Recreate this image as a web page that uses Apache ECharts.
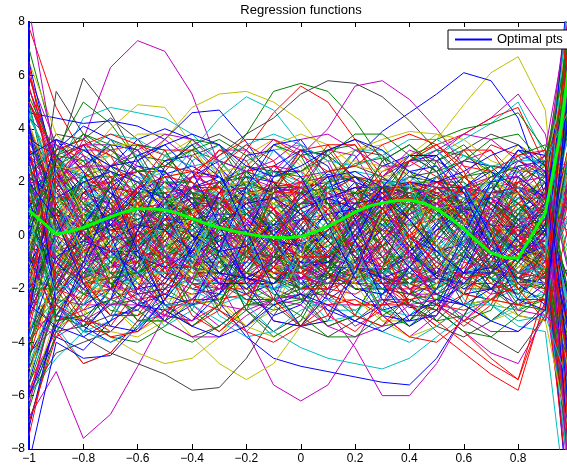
<!DOCTYPE html>
<html lang="en">
<head>
    <meta charset="UTF-8">
    <title>Regression functions</title>
    <style>
        html, body { margin: 0; padding: 0; background: #fff; }
        #main { width: 567px; height: 465px; }
    </style>
</head>
<body>
<div id="main"></div>
<script src="https://cdn.jsdelivr.net/npm/echarts@6/dist/echarts.min.js"></script>
<script>
    // sample points of the thin regression curves
    var xNodes = [-1, -0.9, -0.8, -0.7, -0.6, -0.5, -0.4, -0.3, -0.2, -0.1, 0, 0.1, 0.2, 0.3, 0.4, 0.5, 0.6, 0.7, 0.8, 0.9, 1];
    // finer sampling for the optimal curve
    var xFine = [-1, -0.95, -0.9, -0.85, -0.8, -0.75, -0.7, -0.65, -0.6, -0.55, -0.5, -0.45, -0.4, -0.35, -0.3, -0.25, -0.2, -0.15, -0.1, -0.05,
        0, 0.05, 0.1, 0.15, 0.2, 0.25, 0.3, 0.35, 0.4, 0.45, 0.5, 0.55, 0.6, 0.65, 0.7, 0.75, 0.8, 0.85, 0.9, 0.95, 1];
    var optimalY = [0.94, 0.5, 0.05, 0.15, 0.3, 0.5, 0.7, 0.88, 1.0, 1.0, 0.95, 0.83, 0.63, 0.45, 0.3, 0.17, 0.07, -0.02, -0.07, -0.08,
        -0.04, 0.12, 0.33, 0.6, 0.88, 1.1, 1.22, 1.3, 1.33, 1.22, 1.0, 0.65, 0.25, -0.22, -0.65, -0.82, -0.85, 0.0, 0.85, 3.5, 7.4];
    // the "Optimal pts" trace runs straight up the left edge
    var edgeX = [-1, -1];
    var edgeY = [9, -9];

    var xTicks = [-1, -0.8, -0.6, -0.4, -0.2, 0, 0.2, 0.4, 0.6, 0.8, 1];
    var yTicks = [-8, -6, -4, -2, 0, 2, 4, 6, 8];

    // MATLAB default colour order: b g r c m y k
    var blueLines = [
        [-1.8, 2.1, 3.0, 2.4, 1.2, 0.3, -0.5, -1.2, -1.0, 0.2, 1.5, 2.3, 2.0, 0.8, -0.6, -1.5, -1.2, 0.1, 1.6, 2.0, -6],
        [2.8, -1.5, -2.6, -2.0, -0.6, 0.8, 1.6, 1.4, 0.5, -0.6, -1.8, -2.4, -1.7, -0.2, 1.2, 1.8, 1.1, -0.3, -1.6, -1.0, 9],
        [1.5, 0.8, -0.5, -1.2, -0.8, 0.2, 1.1, 1.3, 0.8, 0.4, 0.6, 1.6, 2.9, 3.9, 4.6, 5.3, 6.1, 5.8, 4.4, 1.5, -4],
        [-3, -2.2, -1.0, 0.3, 0.8, 0.2, -1.0, -2.5, -3.8, -4.6, -4.9, -5.1, -5.3, -5.5, -5.6, -4.6, -3.0, -1.4, -0.5, -0.8, 5],
        [4.6, 4.4, 4.2, 4.3, 4.1, 3.6, 4.6, 4.7, 3.5, 2.0, 0.8, 0.0, -0.8, -1.2, -0.6, 0.5, 1.8, 2.6, 2.5, 1.0, -7],
        [-6, -3.8, -4.3, -3.2, -1.5, 0.2, 1.2, 1.0, -0.2, -1.4, -2.0, -1.6, -0.5, 0.8, 1.5, 1.2, 0.1, -1.1, -2.0, -1.2, 4],
        [2.5, 1.0, 0.2, 0.6, 1.5, 2.3, 2.6, 2.0, 1.0, 0.2, -0.3, -0.1, 0.7, 1.6, 2.2, 2.0, 1.2, 0.2, -0.6, -0.2, 3],
        [-2, -0.5, 1.0, 1.8, 1.6, 0.6, -0.7, -1.8, -2.2, -1.8, -0.8, 0.4, 1.5, 2.1, 1.9, 0.9, -0.4, -1.6, -2.2, -1.5, -8],
        [5.5, 2.8, 1.2, -0.4, -1.8, -2.6, -2.4, -1.5, -0.2, 1.0, 1.8, 2.0, 1.4, 0.4, -0.7, -1.5, -1.8, -1.2, 0.0, 1.8, 10],
        [-4.5, -2.6, -3.4, -4.0, -3.5, -2.4, -1.2, -0.2, 0.4, 0.3, -0.4, -1.4, -2.3, -2.8, -2.5, -1.6, -0.4, 0.7, 1.2, 0.2, -6],
        [1.0, 3.2, 4.1, 3.6, 2.4, 1.2, 0.6, 0.8, 1.6, 2.6, 3.2, 3.0, 2.2, 1.0, -0.1, -0.6, -0.3, 0.6, 1.6, 2.8, 6],
        [-1.0, 0.3, -0.8, -2.0, -2.6, -2.2, -1.2, 0.1, 1.2, 1.8, 1.6, 0.6, -0.8, -2.0, -2.7, -2.6, -1.8, -0.6, 0.6, 0.8, -3],
        [3.5, 1.6, 2.6, 3.4, 3.2, 2.2, 0.8, -0.6, -1.6, -2.0, -1.6, -0.7, 0.5, 1.4, 1.8, 1.5, 0.9, 0.4, 0.3, 0.6, -2],
        [-8.5, -4.0, -4.6, -4.5, -3.4, -2.0, -0.8, 0.0, 0.2, -0.3, -1.0, -1.6, -1.8, -1.4, -0.6, 0.4, 1.2, 1.4, 0.6, -1.0, -9],
        [0.5, -1.6, -2.8, -2.4, -1.0, 0.8, 2.2, 2.8, 2.4, 1.4, 0.3, -0.6, -1.2, -1.3, -0.8, 0.2, 1.3, 2.2, 2.8, 2.2, 7],
        [2, 0.0, 1.2, 2.6, 3.6, 4.0, 3.6, 2.6, 1.4, 0.4, -0.4, -0.8, -0.6, 0.2, 1.2, 2.2, 2.8, 2.6, 1.6, 0.0, -4],
        [-1.2, 1.2, 2.2, 1.0, -0.8, -1.6, -0.6, 1.0, 1.8, 1.0, -0.6, -1.6, -1.0, 0.6, 1.8, 1.4, 0.0, -1.4, -1.6, -0.4, 5],
        [3.0, -0.4, -1.6, -0.6, 1.0, 2.0, 1.4, -0.2, -1.6, -1.8, -0.6, 1.0, 2.0, 1.6, 0.2, -1.2, -1.8, -1.0, 0.6, 1.6, -7],
        [-5.5, -2.0, 0.4, 1.6, 1.0, -0.6, -2.0, -2.2, -1.0, 0.6, 1.6, 1.2, -0.2, -1.6, -2.2, -1.4, 0.2, 1.6, 1.8, 0.6, 2],
        [0.0, 0.8, 0.2, -1.0, -2.0, -1.8, -0.4, 1.2, 2.2, 2.0, 0.8, -0.8, -2.0, -2.2, -1.2, 0.4, 1.8, 2.4, 1.6, 0.2, -8],
        [6.5, 2.2, 0.0, -0.8, 0.0, 1.4, 2.4, 2.2, 1.0, -0.4, -1.2, -1.0, 0.0, 1.2, 2.0, 1.8, 0.8, -0.6, -1.6, -1.8, 4],
        [-2.8, -1.0, -2.0, -3.0, -2.8, -1.6, -0.2, 0.8, 0.8, -0.2, -1.6, -2.8, -3.2, -2.6, -1.2, 0.2, 1.0, 0.8, -0.2, -1.4, 8],
        [1.8, 2.4, 0.8, -0.6, -0.6, 0.6, 1.8, 2.2, 1.4, 0.0, -1.0, -1.0, 0.0, 1.4, 2.4, 2.6, 1.6, 0.2, -0.8, -0.4, -12],
        [-0.8, -3.0, -3.2, -2.0, -0.4, 0.6, 0.4, -0.8, -2.2, -3.0, -2.6, -1.2, 0.6, 1.8, 2.0, 1.0, -0.6, -2.0, -2.6, -1.8, 6],
        [4.0, 1.0, -0.2, 0.4, 1.6, 2.8, 3.0, 2.2, 0.8, -0.2, -0.4, 0.4, 1.6, 2.6, 3.0, 2.4, 1.0, -0.4, -1.0, 0.2, -5],
        [-2.2, 0.0, 1.6, 2.6, 2.2, 0.8, -0.8, -1.8, -1.8, -0.8, 0.6, 1.8, 2.2, 1.4, 0.0, -1.4, -2.0, -1.4, 0.0, 1.0, 3],
        [1.4, -2.2, -1.2, 0.6, 1.8, 1.4, 0.0, -1.4, -2.0, -1.2, 0.2, 1.4, 1.8, 1.0, -0.4, -1.6, -1.8, -0.8, 0.8, 2.0, -9],
        [-7.2, -3.0, -1.4, -0.2, 0.4, 0.2, -0.6, -1.4, -1.6, -1.0, 0.0, 0.8, 1.0, 0.4, -0.6, -1.6, -2.2, -2.0, -1.0, 0.0, 6],
        [3.6, 3.0, 1.8, 0.4, -0.8, -1.2, -0.6, 0.4, 1.2, 1.4, 0.8, -0.2, -1.2, -1.6, -1.2, -0.2, 1.0, 2.0, 2.2, 1.4, -3],
        [0.4, -1.0, 0.4, 1.8, 2.6, 2.4, 1.2, -0.4, -1.6, -1.8, -1.0, 0.2, 1.2, 1.4, 0.6, -0.6, -1.4, -1.2, 0.0, 1.2, 7],
        [-3.8, -0.8, -0.2, -0.6, -1.4, -2.2, -2.6, -2.2, -1.2, 0.0, 1.0, 1.4, 1.0, 0.0, -1.2, -2.2, -2.6, -2.0, -0.8, 0.2, -4],
        [2.2, 1.4, 2.0, 2.4, 2.0, 1.0, 0.0, -0.6, -0.4, 0.4, 1.4, 2.2, 2.4, 1.8, 0.6, -0.6, -1.4, -1.4, -0.6, 0.4, 11],
        [-3.0, 2.8, 3.4, 1.8, -0.6, -2.6, -3.2, -2.2, 0.0, 2.2, 3.2, 2.6, 0.6, -1.8, -3.2, -3.0, -1.4, 0.8, 2.6, 2.8, -10],
        [4.2, -2.6, -3.6, -2.4, 0.2, 2.6, 3.4, 2.4, 0.2, -2.0, -3.4, -3.2, -1.4, 1.0, 2.8, 3.0, 1.6, -0.6, -2.4, -2.8, 7],
        [0.0, 3.6, 2.4, 0.0, -2.2, -3.2, -2.6, -0.6, 1.8, 3.4, 3.6, 2.2, -0.2, -2.4, -3.4, -2.8, -0.8, 1.6, 3.2, 3.0, -5],
        [-6.0, -3.4, -1.0, 1.4, 3.0, 3.4, 2.4, 0.4, -1.8, -3.2, -3.4, -2.2, -0.2, 1.8, 3.0, 3.0, 1.8, 0.0, -1.8, -2.6, 9],
        [2.0, 0.6, -1.8, -3.4, -3.6, -2.4, -0.4, 1.6, 3.0, 3.2, 2.2, 0.4, -1.6, -3.0, -3.2, -2.0, 0.0, 2.0, 3.2, 2.4, -8],
        [3.0, 3.6, 3.2, 2.6, 2.8, 3.4, 3.8, 3.4, 2.6, 2.2, 2.6, 3.2, 3.6, 3.2, 2.4, 2.0, 2.4, 3.0, 3.4, 2.6, -6],
        [-2.6, -3.4, -3.8, -3.2, -2.6, -2.8, -3.4, -3.8, -3.4, -2.6, -2.2, -2.6, -3.2, -3.6, -3.0, -2.4, -2.6, -3.2, -3.6, -2.8, 6]
    ];
    var greenLines = [
        [-2, 1.2, 2.0, 1.4, 0.5, 0.2, 0.9, 2.4, 3.8, 5.4, 5.7, 5.4, 4.3, 2.8, 1.4, 0.6, 0.5, 1.0, 1.8, 1.6, -5],
        [7.0, 3.2, 5.0, 4.2, 2.8, 1.4, 0.6, 0.5, 1.0, 1.6, 1.8, 1.4, 0.6, -0.4, -1.2, -1.4, -0.9, 0.2, 1.4, 2.0, 4],
        [-3.5, -2.4, -1.2, -0.2, 0.4, 0.2, -0.6, -1.6, -2.4, -2.8, -2.5, -1.6, -0.4, 0.7, 1.4, 1.5, 1.0, 0.1, -0.8, -1.3, 3],
        [1.5, -0.2, -1.8, -2.8, -3.0, -2.4, -1.2, 0.2, 1.3, 1.9, 1.8, 1.0, -0.2, -1.4, -2.2, -2.4, -1.9, -1.0, 0.0, 0.4, -7],
        [6.0, 2.6, 2.2, 2.6, 3.0, 2.8, 2.0, 0.8, -0.4, -1.2, -1.4, -0.8, 0.4, 1.8, 2.8, 3.2, 3.0, 2.4, 1.8, 2.8, 8],
        [-5.0, -2.0, -0.4, 0.8, 1.6, 1.8, 1.4, 0.6, -0.4, -1.2, -1.6, -1.5, -0.9, -0.1, 0.6, 1.0, 0.9, 0.3, -0.6, -1.6, -5],
        [0.0, 1.8, 2.6, 2.4, 1.6, 0.6, -0.3, -0.8, -0.7, 0.0, 1.0, 2.0, 2.7, 2.9, 2.4, 1.4, 0.2, -1.0, -2.0, -2.4, -6],
        [3.0, 0.6, -1.0, -1.8, -1.6, -0.6, 0.8, 2.0, 2.6, 2.4, 1.6, 0.4, -0.8, -1.6, -1.8, -1.2, -0.2, 0.9, 1.8, 1.5, 2],
        [-6.5, -3.2, -3.0, -3.8, -4.0, -3.4, -2.4, -1.4, -0.8, -0.8, -1.4, -2.2, -3.0, -3.4, -3.2, -2.4, -1.4, -0.6, -0.4, -1.2, -4],
        [2.2, 1.0, 0.4, 0.8, 1.8, 2.8, 3.2, 2.8, 1.8, 0.6, -0.4, -1.0, -1.0, -0.4, 0.5, 1.4, 2.2, 2.6, 2.4, 1.2, -3],
        [-1.0, -1.0, 0.0, 1.2, 2.0, 2.0, 1.2, -0.1, -1.4, -2.2, -2.4, -2.0, -1.0, 0.3, 1.4, 2.0, 2.0, 1.2, 0.0, -0.8, 6],
        [4.0, 1.4, 0.6, 0.2, 0.3, 0.8, 1.4, 1.8, 1.9, 1.6, 0.8, -0.2, -1.2, -2.0, -2.2, -1.8, -0.8, 0.6, 2.0, 2.6, 9],
        [-2.5, 0.2, 1.0, 0.4, -0.8, -2.0, -2.6, -2.4, -1.4, 0.0, 1.2, 2.0, 2.2, 1.8, 0.8, -0.4, -1.4, -2.0, -1.8, -0.6, -8],
        [0.8, -0.6, -1.4, -1.2, -0.2, 1.0, 1.8, 1.8, 1.0, 0.0, -0.6, -0.4, 0.4, 1.6, 2.8, 3.6, 4.0, 4.2, 4.6, 3.2, -2],
        [-0.5, 2.2, 1.2, -0.4, -1.4, -1.0, 0.4, 1.6, 1.8, 0.8, -0.6, -1.6, -1.4, -0.2, 1.2, 1.8, 1.2, -0.2, -1.4, -1.2, 7],
        [2.5, 0.0, -2.2, -2.6, -1.6, 0.0, 1.2, 1.4, 0.4, -1.0, -2.0, -2.0, -1.0, 0.4, 1.4, 1.4, 0.4, -1.0, -2.0, -1.8, -9],
        [-4.2, -1.6, 0.6, 2.0, 2.4, 1.6, 0.2, -1.0, -1.4, -0.8, 0.4, 1.6, 2.2, 1.8, 0.6, -0.8, -1.8, -1.8, -0.8, 0.4, 3],
        [1.0, 1.6, 0.4, -0.8, -1.0, -0.2, 1.0, 2.0, 2.4, 2.0, 1.0, 0.0, -0.6, -0.4, 0.4, 1.4, 2.2, 2.4, 1.8, 0.8, -6],
        [5.0, 0.4, -1.4, -1.8, -1.2, -0.4, 0.0, -0.2, -0.8, -1.6, -2.0, -1.8, -0.8, 0.6, 1.8, 2.2, 1.6, 0.4, -0.8, -1.6, 2],
        [-1.8, -2.8, -1.6, 0.0, 1.2, 1.4, 0.6, -0.6, -1.8, -2.4, -2.0, -0.8, 0.6, 1.6, 1.8, 1.0, -0.4, -1.6, -2.2, -1.4, 10],
        [0.0, 2.6, 3.2, 2.6, 1.4, 0.4, 0.2, 0.8, 1.8, 2.4, 2.2, 1.2, 0.0, -0.8, -0.8, 0.0, 1.2, 2.2, 2.6, 2.0, -3],
        [-7.0, -3.6, -2.2, -1.0, 0.0, 0.4, 0.0, -1.0, -2.0, -2.6, -2.4, -1.4, 0.0, 1.0, 1.2, 0.4, -0.8, -2.0, -2.8, -2.4, -1],
        [3.2, 1.8, 0.8, 0.6, 1.2, 2.0, 2.0, 1.0, -0.4, -1.6, -2.0, -1.4, -0.2, 1.0, 1.6, 1.4, 0.6, -0.2, -0.4, 0.2, 6],
        [0.6, -1.4, -0.8, 0.6, 1.6, 1.6, 0.6, -0.8, -1.8, -1.8, -0.8, 0.6, 1.6, 1.8, 1.0, -0.4, -1.4, -1.6, -0.8, 0.4, -5],
        [-2.6, 0.8, 2.2, 2.2, 1.2, -0.2, -1.2, -1.4, -0.6, 0.6, 1.6, 1.8, 1.0, -0.4, -1.6, -2.0, -1.4, -0.2, 1.0, 1.6, 5],
        [3.8, 1.0, -0.6, -1.4, -1.4, -0.6, 0.4, 1.2, 1.4, 0.8, -0.2, -1.2, -1.6, -1.2, -0.2, 0.8, 1.4, 1.2, 0.4, -0.6, -8],
        [-0.4, 1.0, 2.0, 1.6, 0.2, -1.4, -2.4, -2.4, -1.4, 0.0, 1.2, 1.8, 1.6, 0.6, -0.6, -1.4, -1.4, -0.6, 0.6, 1.4, 2],
        [1.6, 2.4, 1.2, 0.0, -0.4, 0.2, 1.2, 2.0, 2.2, 1.4, 0.2, -1.0, -1.6, -1.4, -0.4, 0.8, 1.8, 2.0, 1.2, 0.0, 9],
        [-5.6, -2.6, -1.8, -1.6, -1.4, -0.8, 0.0, 0.6, 0.8, 0.4, -0.4, -1.4, -2.0, -2.0, -1.2, 0.0, 1.0, 1.2, 0.6, -0.4, -7],
        [2.0, -0.6, -1.6, -1.0, 0.2, 1.2, 1.6, 1.2, 0.2, -0.8, -1.2, -0.8, 0.2, 1.2, 1.8, 1.6, 0.6, -0.6, -1.6, -2.0, 4],
        [1.0, -3.0, -3.4, -2.0, 0.2, 2.4, 3.6, 3.4, 1.8, -0.4, -2.4, -3.4, -3.0, -1.2, 1.0, 2.8, 3.4, 2.4, 0.4, -1.6, 6],
        [-4.8, 2.4, 3.8, 3.4, 1.6, -0.8, -2.8, -3.6, -2.8, -0.8, 1.6, 3.2, 3.4, 2.0, -0.2, -2.2, -3.2, -2.8, -1.0, 1.2, -6],
        [5.2, 3.0, 0.6, -1.8, -3.2, -3.2, -1.8, 0.4, 2.4, 3.4, 3.0, 1.2, -1.0, -2.8, -3.4, -2.6, -0.6, 1.6, 3.0, 3.4, 2],
        [-2.0, -2.0, -0.2, 2.0, 3.4, 3.2, 1.6, -0.8, -2.8, -3.8, -3.2, -1.4, 1.0, 2.8, 3.4, 2.6, 0.8, -1.2, -2.6, -2.8, 10],
        [0.4, 3.0, 2.8, 1.2, -1.0, -2.8, -3.4, -2.6, -0.6, 1.6, 3.0, 3.2, 2.0, 0.0, -2.0, -3.2, -3.0, -1.4, 0.8, 2.4, -3],
        [-1.0, 3.0, 3.8, 3.2, 2.4, 2.6, 3.2, 3.6, 3.0, 2.2, 2.4, 3.0, 3.8, 3.8, 3.0, 2.4, 2.8, 3.6, 3.8, 2.6, 8],
        [2.0, -3.2, -3.0, -2.4, -2.8, -3.6, -4.0, -3.4, -2.6, -2.4, -3.0, -3.8, -3.8, -3.0, -2.4, -2.8, -3.6, -3.8, -3.0, -2.2, -4]
    ];
    var redLines = [
        [7.8, 4.8, 3.0, 1.6, 0.4, -0.4, -0.6, -0.2, 0.6, 1.4, 1.8, 1.6, 0.8, -0.4, -1.4, -1.8, -1.4, -0.4, 0.8, 1.4, -4],
        [-1.5, 0.4, 1.6, 1.8, 1.2, 0.6, 0.8, 1.8, 3.2, 4.6, 5.6, 5.0, 3.6, 2.2, 1.4, 1.2, 1.6, 2.2, 2.6, 2.0, 3],
        [-4.0, -1.8, -0.6, -0.4, -1.0, -1.8, -2.2, -2.0, -1.2, -0.2, 0.6, 0.6, -0.2, -1.4, -2.6, -3.6, -4.4, -5.2, -5.8, -2.4, 6],
        [2.6, 0.8, -0.6, -1.4, -1.2, -0.2, 1.0, 2.0, 2.4, 2.0, 1.0, -0.2, -1.2, -1.8, -1.6, -0.8, 0.4, 1.4, 2.0, 1.4, -6],
        [-7.5, -3.0, -1.6, -1.6, -2.4, -3.0, -3.2, -2.6, -1.6, -0.6, 0.0, 0.0, -0.4, -1.2, -2.0, -2.6, -2.8, -2.4, -1.4, 0.0, 8],
        [0.5, 1.4, 1.4, 0.6, -0.6, -1.6, -2.0, -1.6, -0.6, 0.6, 1.6, 2.2, 2.2, 1.6, 0.6, -0.4, -1.0, -1.2, -0.8, 0.2, 5],
        [-5.5, -3.6, -4.8, -4.4, -3.2, -1.8, -0.6, 0.0, 0.0, -0.6, -1.4, -2.2, -2.6, -2.6, -2.4, -2.8, -3.6, -4.6, -5.4, -2.6, 2],
        [3.8, 2.2, 2.6, 3.2, 3.4, 3.0, 2.0, 0.8, -0.4, -1.2, -1.4, -1.0, -0.2, 0.8, 1.6, 2.0, 1.8, 1.2, 0.4, 0.0, -8],
        [-0.5, -0.6, -0.2, 0.4, 1.0, 1.2, 0.8, 0.0, -0.8, -1.2, -1.0, -0.2, 1.0, 2.2, 3.0, 3.4, 3.8, 4.4, 4.8, 2.6, -5],
        [1.2, -0.4, -1.6, -2.0, -1.4, -0.2, 1.0, 1.8, 2.0, 1.6, 0.8, 0.0, -0.4, -0.4, 0.0, 0.6, 1.2, 1.4, 0.8, -0.6, -10],
        [-3.0, -1.2, 0.2, 1.0, 1.2, 0.8, 0.0, -0.8, -1.4, -1.6, -1.2, -0.4, 0.6, 1.4, 1.8, 1.4, 0.4, -0.8, -1.8, -2.0, 4],
        [5.0, 3.0, 1.4, 0.2, -0.6, -0.8, -0.4, 0.4, 1.2, 1.8, 2.0, 1.8, 1.2, 0.6, 0.4, 0.6, 1.2, 1.8, 2.0, 1.2, -3],
        [-1.0, -2.6, -3.6, -3.6, -2.6, -1.2, 0.2, 1.2, 1.6, 1.4, 0.6, -0.4, -1.4, -2.0, -2.0, -1.4, -0.4, 0.6, 1.2, 0.8, 7],
        [2.0, 2.8, 1.8, 0.6, -0.2, -0.2, 0.6, 1.6, 2.4, 2.6, 2.0, 0.8, -0.6, -1.8, -2.4, -2.2, -1.4, -0.4, 0.2, 0.4, -2],
        [0.0, -1.4, -2.2, -2.0, -1.0, 0.2, 1.0, 1.2, 0.6, -0.4, -1.4, -2.2, -2.6, -2.6, -2.6, -3.2, -4.0, -4.8, -5.4, -2.0, 3],
        [-2.2, 0.0, 1.4, 2.2, 2.4, 1.8, 0.8, -0.4, -1.4, -1.8, -1.6, -0.8, 0.2, 1.0, 1.4, 1.2, 0.6, -0.2, -1.0, -1.8, -9],
        [1.0, -1.0, -2.0, -1.2, 0.4, 1.6, 1.8, 0.8, -0.6, -1.6, -1.6, -0.6, 0.8, 1.8, 1.8, 0.8, -0.6, -1.8, -2.2, -1.2, 9],
        [-3.5, 0.6, 2.0, 2.0, 1.0, -0.4, -1.4, -1.4, -0.4, 1.0, 2.0, 2.2, 1.4, 0.0, -1.2, -1.8, -1.4, -0.2, 1.2, 2.2, -7],
        [6.0, 2.4, 0.2, -1.0, -1.0, -0.2, 0.8, 1.4, 1.2, 0.2, -1.0, -2.0, -2.2, -1.6, -0.4, 0.8, 1.6, 1.6, 0.8, -0.2, -4],
        [-0.2, -2.0, -2.4, -1.4, 0.2, 1.4, 1.6, 0.8, -0.4, -1.2, -1.2, -0.2, 1.2, 2.4, 2.8, 2.2, 1.0, -0.2, -0.8, -0.2, 6],
        [2.2, 3.4, 2.8, 1.2, -0.4, -1.4, -1.6, -1.0, 0.0, 1.0, 1.4, 1.0, 0.0, -1.2, -2.0, -2.0, -1.2, 0.0, 1.2, 1.8, -10],
        [-6.0, -2.4, -0.6, 0.2, 0.0, -0.8, -1.8, -2.4, -2.2, -1.2, 0.2, 1.4, 1.8, 1.4, 0.2, -1.2, -2.2, -2.4, -1.8, -0.6, 4],
        [0.8, 0.8, 1.6, 2.0, 1.4, 0.2, -1.2, -2.0, -2.0, -1.0, 0.4, 1.6, 2.2, 2.0, 1.0, -0.4, -1.6, -2.2, -2.0, -1.4, 1],
        [4.2, 1.2, -0.6, -1.8, -2.4, -2.2, -1.2, 0.2, 1.4, 2.0, 1.8, 0.8, -0.6, -1.8, -2.6, -2.8, -2.2, -1.0, 0.4, 1.2, 8],
        [-2.4, -1.6, -0.2, 1.0, 1.8, 2.2, 2.0, 1.4, 0.6, 0.0, -0.2, 0.2, 0.8, 1.4, 1.4, 0.8, -0.2, -1.2, -1.6, -0.8, -6],
        [-1.8, 1.8, 2.4, 1.4, 0.0, -1.0, -1.2, -0.4, 0.8, 1.6, 1.6, 0.6, -0.8, -1.8, -1.8, -0.8, 0.6, 1.6, 1.8, 1.0, -4],
        [0.2, -0.8, -1.8, -2.4, -2.0, -0.8, 0.6, 1.6, 1.8, 1.0, -0.2, -1.4, -1.8, -1.2, 0.0, 1.2, 1.8, 1.4, 0.2, -1.0, 10],
        [3.0, 2.0, 0.6, -0.2, 0.0, 0.8, 1.6, 1.8, 1.0, -0.2, -1.4, -2.0, -1.6, -0.4, 1.0, 2.0, 2.2, 1.4, 0.0, -1.2, -8],
        [-4.6, -1.2, 0.8, 1.8, 1.6, 0.6, -0.6, -1.6, -1.8, -1.2, 0.0, 1.0, 1.4, 1.0, 0.0, -1.0, -1.6, -1.4, -0.4, 0.6, 3],
        [1.4, 0.0, -0.6, 0.0, 1.2, 2.2, 2.4, 1.6, 0.2, -1.2, -2.0, -2.0, -1.2, 0.0, 1.2, 1.8, 1.6, 0.6, -0.6, -1.4, 7],
        [-0.6, -3.2, -2.8, -1.6, -0.2, 0.6, 0.6, 0.0, -0.8, -1.4, -1.4, -0.6, 0.6, 1.6, 2.0, 1.6, 0.6, -0.6, -1.4, -1.6, -11],
        [5.6, 1.8, 0.0, -0.6, -0.2, 0.6, 1.2, 1.2, 0.6, -0.2, -0.8, -0.8, -0.2, 0.8, 1.6, 2.0, 1.8, 1.0, 0.0, -0.8, 2],
        [-2.6, 3.2, 3.6, 2.2, -0.2, -2.4, -3.4, -2.8, -0.8, 1.6, 3.2, 3.4, 2.0, -0.4, -2.6, -3.4, -2.6, -0.4, 2.0, 3.0, 5],
        [3.4, -1.8, -3.2, -3.4, -2.0, 0.2, 2.2, 3.2, 2.8, 1.0, -1.2, -3.0, -3.6, -2.6, -0.4, 1.8, 3.2, 3.2, 1.6, -0.6, -9],
        [-7.0, -3.8, -2.4, -0.4, 1.8, 3.2, 3.2, 1.8, -0.4, -2.4, -3.4, -3.0, -1.2, 1.0, 2.8, 3.4, 2.4, 0.2, -2.0, -3.2, 1],
        [1.2, 2.2, 3.4, 3.0, 1.2, -1.2, -3.0, -3.6, -2.6, -0.4, 2.0, 3.4, 3.4, 1.8, -0.6, -2.6, -3.4, -2.6, -0.6, 1.4, 8],
        [6.4, 0.8, -1.6, -3.0, -3.0, -1.6, 0.6, 2.6, 3.4, 2.8, 1.0, -1.4, -3.0, -3.4, -2.2, 0.0, 2.2, 3.4, 3.0, 1.4, -6],
        [5.0, 2.8, 3.4, 3.8, 3.4, 2.6, 2.4, 3.0, 3.6, 3.6, 3.0, 2.4, 2.6, 3.4, 3.8, 3.4, 2.6, 2.4, 3.0, 3.2, -9],
        [-4.0, -2.6, -3.2, -3.8, -3.6, -2.8, -2.4, -2.8, -3.6, -4.0, -3.4, -2.6, -2.4, -3.0, -3.8, -4.0, -3.2, -2.4, -2.6, -2.4, 9]
    ];
    var cyanLines = [
        [3.2, 2.4, 4.4, 4.8, 4.6, 4.4, 3.8, 2.8, 1.6, 0.6, 0.0, 0.0, 0.4, 1.0, 1.4, 1.4, 0.8, 0.0, -0.6, -0.4, 6],
        [-1.0, -0.8, 0.0, 0.6, 1.2, 2.0, 3.2, 4.4, 5.2, 4.7, 3.4, 1.8, 0.4, -0.6, -1.0, -0.8, 0.0, 0.8, 1.2, 0.6, -5],
        [-2.0, -3.4, -4.8, -4.4, -3.2, -2.0, -1.0, -0.4, -0.4, -0.8, -1.4, -1.8, -1.8, -1.4, -0.6, 0.2, 0.8, 1.0, 0.6, -0.4, -8],
        [1.0, 0.2, -0.6, -0.8, -0.4, 0.4, 1.2, 1.6, 1.4, 0.8, 0.2, 0.0, 0.4, 1.2, 2.2, 3.0, 3.6, 4.2, 5.0, 3.0, -4],
        [-4.0, -1.6, -0.4, 0.0, -0.2, -0.8, -1.6, -2.2, -2.4, -2.0, -1.0, 0.2, 1.2, 1.8, 1.6, 0.8, -0.4, -1.6, -2.4, -2.2, 2],
        [2.8, 1.4, 0.6, 0.8, 1.4, 1.8, 1.6, 0.8, -0.2, -1.2, -1.8, -1.8, -1.2, -0.2, 0.8, 1.4, 1.6, 1.2, 0.6, 0.4, 7],
        [-0.5, 0.6, 1.8, 2.4, 2.0, 1.0, -0.2, -1.2, -1.8, -1.8, -1.2, -0.4, 0.2, 0.4, 0.0, -0.8, -1.8, -2.6, -3.4, -3.6, -12],
        [5.0, 3.0, 2.0, 1.2, 0.4, -0.4, -1.0, -1.2, -0.8, 0.0, 1.0, 1.8, 2.2, 2.0, 1.2, 0.0, -1.2, -2.0, -2.2, -1.4, 3],
        [-6.0, -4.6, -3.6, -2.4, -1.2, -0.4, 0.0, -0.2, -0.8, -1.6, -2.4, -2.8, -2.8, -2.2, -1.4, -0.6, 0.0, 0.2, -0.2, -0.8, 1],
        [0.5, 1.8, 2.8, 3.0, 2.4, 1.4, 0.4, -0.2, -0.2, 0.4, 1.2, 2.0, 2.4, 2.2, 1.6, 0.8, 0.2, 0.0, 0.4, 1.4, 10],
        [-2.5, -0.6, 0.4, 0.6, 0.2, -0.4, -0.8, -0.6, 0.2, 1.2, 2.0, 2.2, 1.6, 0.4, -1.0, -2.0, -2.6, -2.4, -1.6, -0.4, -6],
        [1.8, -0.8, -2.0, -2.4, -2.0, -1.0, 0.2, 1.4, 2.2, 2.4, 2.0, 1.2, 0.2, -0.8, -1.6, -1.8, -1.2, 0.0, 1.4, 2.0, -1],
        [-1.5, -2.0, -1.6, -0.8, 0.0, 0.2, -0.4, -1.4, -2.6, -3.6, -4.2, -4.6, -4.8, -5.0, -4.6, -3.8, -3.0, -2.4, -2.0, -1.2, 4],
        [3.8, 2.0, 1.0, 0.0, -0.8, -1.0, -0.6, 0.2, 1.0, 1.6, 1.8, 1.4, 0.8, 0.4, 0.4, 0.8, 1.4, 2.0, 2.4, 2.4, 8],
        [-0.8, 1.6, 1.0, -0.6, -1.8, -1.8, -0.6, 0.8, 1.6, 1.4, 0.2, -1.2, -1.8, -1.2, 0.2, 1.4, 1.8, 1.0, -0.4, -1.2, 5],
        [2.0, -0.8, -1.4, -0.4, 1.0, 2.0, 2.0, 1.0, -0.4, -1.4, -1.6, -0.8, 0.6, 1.8, 2.2, 1.6, 0.4, -0.8, -1.4, -1.0, -9],
        [-4.8, -2.2, -1.2, -1.4, -2.0, -2.2, -1.6, -0.4, 0.8, 1.4, 1.2, 0.2, -1.2, -2.2, -2.6, -2.0, -0.8, 0.4, 1.0, 0.6, 3],
        [4.4, 2.6, 1.6, 1.4, 1.6, 1.6, 1.0, 0.0, -1.0, -1.4, -1.0, 0.0, 1.2, 2.0, 2.0, 1.2, 0.0, -1.0, -1.4, -0.8, -2],
        [0.2, -1.2, -0.6, 0.8, 2.0, 2.4, 1.6, 0.2, -1.2, -2.0, -1.8, -0.8, 0.4, 1.2, 1.2, 0.4, -0.8, -1.6, -1.6, -0.6, 7],
        [-1.6, 0.0, 1.2, 1.4, 0.6, -0.8, -2.0, -2.6, -2.2, -1.0, 0.4, 1.4, 1.6, 1.0, 0.0, -1.0, -1.4, -1.0, 0.0, 1.2, -11],
        [1.2, 2.8, 2.2, 0.8, -0.4, -0.8, -0.2, 1.0, 2.0, 2.4, 1.8, 0.6, -0.6, -1.4, -1.4, -0.6, 0.6, 1.8, 2.6, 2.2, -4],
        [-3.2, -3.6, -2.6, -1.0, 0.4, 1.0, 0.6, -0.4, -1.4, -1.8, -1.4, -0.4, 0.8, 1.4, 1.0, -0.2, -1.6, -2.6, -2.8, -2.0, 9],
        [-2.2, 0.4, 1.8, 1.8, 0.8, -0.6, -1.6, -1.8, -1.0, 0.2, 1.2, 1.6, 1.2, 0.2, -1.0, -1.8, -1.8, -1.0, 0.2, 1.2, 6],
        [1.6, 1.0, -0.4, -1.4, -1.4, -0.4, 0.8, 1.8, 2.0, 1.2, 0.0, -1.2, -1.8, -1.4, -0.4, 0.8, 1.6, 1.6, 0.8, -0.4, -7],
        [-5.2, -2.8, -1.6, -0.8, -0.2, 0.2, 0.2, -0.2, -0.8, -1.2, -1.2, -0.6, 0.2, 0.8, 1.0, 0.6, -0.2, -1.0, -1.4, -1.2, 1],
        [2.6, 0.0, 0.6, 1.6, 2.2, 1.8, 0.6, -0.8, -1.8, -2.0, -1.2, 0.2, 1.4, 2.0, 1.8, 0.8, -0.6, -1.6, -1.8, -0.8, 8],
        [-0.2, 2.0, 1.4, 0.2, -0.8, -1.0, -0.4, 0.6, 1.4, 1.6, 1.0, 0.0, -1.0, -1.4, -1.0, 0.0, 1.0, 1.6, 1.4, 0.6, -3],
        [4.6, 1.8, 0.2, -0.8, -1.4, -1.4, -0.8, 0.2, 1.0, 1.2, 0.6, -0.4, -1.4, -2.0, -1.8, -0.8, 0.4, 1.4, 1.8, 1.2, 4],
        [-1.2, -1.8, -2.2, -1.6, -0.4, 0.8, 1.6, 1.6, 0.8, -0.4, -1.4, -1.8, -1.2, 0.0, 1.2, 1.8, 1.4, 0.2, -1.0, -1.6, -10],
        [-1.4, -3.2, -2.6, -0.8, 1.4, 3.0, 3.4, 2.2, 0.0, -2.2, -3.4, -3.0, -1.2, 1.0, 2.8, 3.2, 2.0, -0.2, -2.2, -3.0, 4],
        [2.4, 3.4, 2.0, -0.2, -2.4, -3.4, -2.8, -0.8, 1.6, 3.2, 3.4, 2.0, -0.4, -2.6, -3.4, -2.4, -0.2, 2.0, 3.2, 2.6, -8],
        [-3.8, 0.0, 2.4, 3.6, 3.0, 1.2, -1.2, -3.0, -3.6, -2.6, -0.4, 1.8, 3.2, 3.2, 1.8, -0.4, -2.4, -3.2, -2.6, -0.8, 7],
        [4.8, 1.4, -0.8, -2.6, -3.4, -2.8, -1.0, 1.2, 2.8, 3.2, 2.4, 0.6, -1.4, -2.8, -3.0, -2.0, 0.0, 2.0, 3.0, 2.6, -2],
        [0.6, -2.2, -3.6, -3.2, -1.4, 1.0, 2.8, 3.4, 2.4, 0.2, -2.0, -3.2, -3.0, -1.6, 0.4, 2.2, 3.0, 2.6, 1.0, -0.8, 11],
        [1.0, 2.4, 3.2, 3.8, 3.6, 3.0, 2.6, 2.8, 3.4, 3.8, 3.4, 2.8, 2.6, 3.0, 3.6, 3.6, 3.0, 2.6, 2.8, 2.8, 5],
        [-1.6, -2.6, -3.6, -4.0, -3.4, -2.6, -2.6, -3.2, -3.8, -3.6, -2.8, -2.4, -2.8, -3.6, -4.0, -3.4, -2.6, -2.6, -3.2, -3.0, -6]
    ];
    var magentaLines = [
        [2.0, 1.8, 3.6, 6.3, 7.3, 6.9, 5.3, 2.6, 0.8, -0.2, -0.4, 0.0, 0.4, 0.6, 0.4, 0.0, -0.4, -0.6, -0.2, 0.6, -3],
        [-6.8, -5.1, -7.6, -6.7, -4.9, -3.0, -1.6, -0.8, -0.6, -0.8, -1.0, -1.0, -0.6, 0.2, 1.0, 1.6, 1.8, 1.4, 0.6, 0.0, 5],
        [1.0, 0.4, 0.6, 1.2, 1.6, 1.2, 0.0, -1.8, -3.6, -5.6, -6.2, -5.6, -4.0, -2.2, -0.8, 0.2, 0.6, 0.4, 0.0, -0.2, -6],
        [-3.0, -1.2, 0.2, 0.8, 0.4, -0.6, -1.8, -2.6, -2.8, -2.4, -2.2, -2.8, -4.2, -6.0, -6.0, -4.8, -3.0, -1.4, -0.4, -0.2, 9],
        [-2.0, 0.0, 0.8, 0.6, -0.2, -1.0, -1.2, -0.8, 0.2, 1.8, 3.0, 4.0, 5.6, 5.8, 5.1, 4.0, 2.6, 1.2, 0.2, 0.0, -7],
        [4.0, 2.0, 0.8, 0.2, 0.4, 1.0, 1.4, 1.2, 0.6, -0.2, -0.8, -0.8, -0.2, 0.8, 2.0, 3.0, 3.8, 4.4, 5.3, 3.8, -1],
        [0.0, -1.4, -2.2, -2.0, -1.2, 0.0, 1.2, 2.0, 2.2, 1.8, 1.0, 0.0, -1.0, -1.6, -1.8, -1.4, -0.6, 0.4, 1.0, 0.6, -9],
        [-5.0, -2.2, -1.0, -0.6, -0.8, -1.2, -1.2, -0.6, 0.4, 1.4, 2.2, 2.4, 2.0, 1.0, -0.2, -1.4, -2.2, -2.4, -1.8, -0.8, 2],
        [6.0, 3.4, 2.4, 1.6, 1.0, 0.4, 0.0, -0.2, -0.2, 0.2, 0.8, 1.4, 1.8, 2.0, 1.8, 1.2, 0.4, -0.6, -1.6, -2.2, -10],
        [1.5, 0.8, 0.0, -1.0, -2.0, -2.6, -2.6, -2.0, -1.0, 0.0, 0.6, 0.8, 0.4, -0.4, -1.4, -2.2, -2.6, -2.4, -1.6, -0.4, 6],
        [-1.0, 2.0, 3.2, 3.2, 2.6, 2.0, 1.8, 2.0, 2.4, 2.6, 2.4, 1.6, 0.4, -0.8, -1.6, -1.6, -0.8, 0.4, 1.6, 2.4, 5],
        [3.0, 0.8, -0.8, -1.8, -2.2, -2.0, -1.6, -1.4, -1.6, -2.0, -2.4, -2.6, -2.6, -2.4, -2.4, -2.8, -3.6, -4.4, -4.8, -3.0, -4],
        [-3.5, -3.0, -2.0, -0.6, 0.8, 1.8, 2.2, 1.8, 1.0, 0.0, -0.8, -1.2, -1.2, -0.8, 0.0, 1.0, 1.8, 2.2, 2.2, 1.4, 4],
        [8.5, 2.6, 1.0, 0.4, 0.4, 0.6, 0.6, 0.2, -0.4, -1.0, -1.2, -0.8, 0.0, 1.0, 1.8, 2.0, 1.4, 0.4, -0.4, -0.4, 1],
        [0.6, 1.4, 0.4, -1.0, -1.6, -1.0, 0.4, 1.6, 1.8, 0.8, -0.6, -1.6, -1.6, -0.6, 0.8, 1.8, 1.8, 0.8, -0.6, -1.2, 8],
        [-2.4, -0.2, 1.6, 2.2, 1.6, 0.2, -1.2, -1.8, -1.4, -0.2, 1.0, 1.6, 1.2, 0.0, -1.2, -1.8, -1.4, -0.2, 1.0, 1.6, -8],
        [3.6, 1.2, -0.4, -1.2, -1.0, -0.2, 0.8, 1.4, 1.2, 0.4, -0.6, -1.2, -1.2, -0.4, 0.6, 1.4, 1.6, 1.0, 0.0, -0.6, -3],
        [-5.8, -3.4, -2.6, -2.6, -2.2, -1.2, 0.0, 1.0, 1.4, 1.0, 0.0, -1.2, -2.0, -2.0, -1.4, -0.4, 0.4, 0.6, 0.0, -1.0, 6],
        [1.8, 0.0, -1.0, -0.8, 0.2, 1.4, 2.2, 2.2, 1.4, 0.2, -1.0, -1.8, -1.8, -1.0, 0.2, 1.2, 1.8, 1.6, 0.8, 0.0, -12],
        [-1.2, -1.8, -0.6, 0.8, 1.8, 2.0, 1.2, -0.2, -1.6, -2.4, -2.2, -1.2, 0.2, 1.4, 2.0, 1.8, 0.8, -0.4, -1.4, -1.6, 2],
        [5.5, 2.8, 1.8, 2.0, 2.4, 2.4, 1.6, 0.4, -0.8, -1.6, -1.6, -0.8, 0.4, 1.4, 1.8, 1.4, 0.4, -0.8, -1.4, -1.0, 4],
        [-0.4, 1.0, 0.2, -1.4, -2.6, -3.0, -2.4, -1.0, 0.6, 1.6, 1.8, 1.0, -0.2, -1.4, -2.2, -2.2, -1.4, -0.2, 0.8, 1.0, -6],
        [1.2, -0.8, -1.6, -1.2, 0.0, 1.2, 1.8, 1.4, 0.2, -1.0, -1.6, -1.2, 0.0, 1.2, 1.8, 1.4, 0.2, -1.0, -1.6, -1.0, 3],
        [-3.2, 0.2, 1.4, 1.2, 0.2, -0.8, -1.2, -0.6, 0.6, 1.6, 2.0, 1.4, 0.2, -1.0, -1.6, -1.2, 0.0, 1.2, 1.8, 1.4, -9],
        [2.8, 1.6, 1.0, 0.6, 0.0, -0.8, -1.6, -2.0, -1.6, -0.6, 0.6, 1.4, 1.6, 1.0, 0.0, -1.0, -1.6, -1.4, -0.4, 0.8, 7],
        [-1.6, -0.4, -1.2, -2.0, -2.0, -1.2, 0.0, 1.0, 1.4, 1.0, 0.2, -0.8, -1.2, -0.8, 0.2, 1.2, 1.8, 1.6, 0.6, -0.6, -5],
        [0.2, 2.4, 2.6, 1.6, 0.2, -0.8, -1.0, -0.4, 0.6, 1.4, 1.6, 1.0, -0.2, -1.4, -2.0, -1.6, -0.4, 1.0, 2.0, 2.2, 10],
        [-6.4, -2.0, -0.4, 0.0, -0.4, -1.2, -1.8, -1.8, -1.0, 0.2, 1.2, 1.6, 1.2, 0.2, -0.8, -1.4, -1.4, -0.6, 0.4, 1.0, 0],
        [3.8, 0.4, -0.8, -0.6, 0.4, 1.4, 1.8, 1.4, 0.4, -0.8, -1.6, -1.8, -1.2, -0.2, 0.8, 1.2, 1.0, 0.2, -0.8, -1.6, -6],
        [2.2, -1.0, -3.0, -3.6, -2.6, -0.4, 1.8, 3.2, 3.2, 1.8, -0.4, -2.4, -3.4, -2.8, -1.0, 1.2, 2.8, 3.2, 2.2, 0.4, -7],
        [-2.8, 1.8, 3.4, 3.4, 1.8, -0.6, -2.6, -3.4, -2.6, -0.6, 1.8, 3.2, 3.0, 1.4, -0.8, -2.6, -3.2, -2.2, -0.2, 1.6, 3],
        [5.0, 2.6, 0.2, -2.0, -3.2, -3.0, -1.6, 0.6, 2.6, 3.6, 3.2, 1.4, -1.0, -3.0, -3.8, -3.0, -1.0, 1.2, 2.8, 3.2, 9],
        [-4.4, -3.4, -1.6, 0.8, 2.8, 3.6, 2.8, 0.8, -1.6, -3.2, -3.4, -2.0, 0.2, 2.2, 3.2, 2.8, 1.0, -1.2, -2.8, -3.0, -4],
        [1.6, 3.6, 3.0, 1.0, -1.4, -3.0, -3.2, -1.8, 0.4, 2.4, 3.4, 2.8, 0.8, -1.6, -3.0, -3.0, -1.6, 0.6, 2.4, 3.0, -11],
        [4.4, 3.4, 2.6, 2.6, 3.2, 3.8, 3.6, 2.8, 2.4, 2.8, 3.6, 3.8, 3.2, 2.6, 2.6, 3.2, 3.8, 3.6, 2.8, 2.4, -2],
        [-3.0, -3.8, -3.2, -2.6, -2.6, -3.2, -3.8, -3.8, -3.0, -2.4, -2.6, -3.4, -3.8, -3.4, -2.6, -2.4, -3.0, -3.6, -3.6, -2.6, 3]
    ];
    var yellowLines = [
        [0.0, -0.6, -1.0, -0.8, -0.2, 0.4, 0.6, 0.2, -0.4, -0.8, -0.8, -0.2, 0.8, 2.0, 2.8, 3.6, 4.9, 6.1, 6.7, 4.7, -6],
        [-2.0, -0.4, 0.6, 1.4, 2.4, 3.6, 4.8, 5.3, 5.4, 5.0, 4.3, 3.0, 1.6, 0.4, -0.4, -0.6, -0.2, 0.4, 0.8, 0.6, -2],
        [3.0, 2.0, 2.8, 4.0, 4.9, 4.8, 3.4, 1.8, 0.6, -0.2, -0.6, -0.6, -0.2, 0.4, 0.8, 1.0, 0.8, 0.2, -0.6, -1.2, 5],
        [1.0, -1.0, -1.8, -1.8, -1.8, -2.6, -3.8, -4.8, -5.4, -4.8, -3.4, -1.8, -0.4, 0.6, 1.0, 0.8, 0.2, -0.6, -1.2, -1.0, 7],
        [-3.5, -1.8, -0.6, 0.4, 1.0, 1.2, 0.8, 0.0, -0.8, -1.4, -1.6, -1.2, -0.4, 0.4, 1.0, 1.2, 0.8, 0.0, -0.8, -1.4, -7],
        [2.0, 0.6, 0.0, 0.2, 0.8, 1.6, 2.2, 2.4, 2.0, 1.2, 0.2, -0.6, -1.2, -1.4, -1.0, -0.2, 0.8, 1.6, 2.0, 1.6, 9],
        [-1.0, -2.4, -3.2, -3.8, -4.4, -4.8, -4.6, -3.8, -2.6, -1.4, -0.4, 0.2, 0.4, 0.2, -0.4, -1.2, -1.8, -2.0, -1.6, -0.8, 3],
        [4.5, 2.2, 1.0, 0.0, -0.8, -1.4, -1.6, -1.2, -0.4, 0.6, 1.6, 2.4, 2.8, 2.6, 1.8, 0.8, -0.2, -0.8, -0.8, 0.0, -4],
        [-5.0, -2.8, -2.2, -2.0, -1.6, -1.0, -0.2, 0.6, 1.2, 1.4, 1.2, 0.6, -0.2, -1.0, -1.8, -2.4, -2.6, -2.4, -1.8, -1.4, -8],
        [0.5, 1.2, 1.6, 1.2, 0.4, -0.4, -0.8, -0.6, 0.2, 1.2, 2.0, 2.4, 2.2, 1.4, 0.4, -0.6, -1.2, -1.4, -1.0, -0.4, 2],
        [-2.5, 0.8, 2.0, 2.4, 2.0, 1.0, -0.2, -1.4, -2.2, -2.4, -2.0, -1.2, -0.2, 0.6, 1.0, 1.0, 0.6, 0.2, 0.0, 0.4, 6],
        [6.5, 3.8, 2.6, 1.8, 1.2, 0.6, 0.0, -0.6, -1.0, -1.2, -1.0, -0.4, 0.4, 1.2, 1.8, 2.2, 2.2, 2.0, 1.6, 1.0, -5],
        [-1.5, -0.8, -0.6, -0.8, -1.0, -0.8, -0.2, 0.6, 1.4, 2.0, 2.4, 2.8, 3.2, 3.6, 3.9, 3.8, 3.2, 2.2, 1.2, 0.4, -3],
        [1.6, -0.6, -1.4, -0.6, 0.8, 1.8, 1.8, 0.8, -0.6, -1.6, -1.6, -0.6, 0.8, 1.8, 1.8, 0.8, -0.6, -1.8, -2.2, -1.4, 5],
        [-4.0, -1.4, 0.4, 1.2, 1.0, 0.0, -1.2, -2.0, -1.8, -0.8, 0.4, 1.4, 1.6, 1.0, -0.2, -1.4, -2.0, -1.6, -0.4, 0.8, -9],
        [3.4, 2.6, 1.2, 0.0, -0.6, -0.4, 0.4, 1.4, 2.0, 1.8, 0.8, -0.6, -1.6, -2.0, -1.6, -0.4, 0.8, 1.8, 2.2, 1.6, 8],
        [-1.8, 0.4, 0.6, -0.4, -1.6, -2.4, -2.2, -1.2, 0.2, 1.2, 1.6, 1.2, 0.2, -1.0, -1.8, -2.0, -1.4, -0.2, 0.8, 1.0, -3],
        [0.4, 1.8, 2.6, 2.2, 1.0, -0.4, -1.2, -1.0, 0.0, 1.2, 2.0, 2.0, 1.2, 0.0, -1.0, -1.2, -0.6, 0.6, 1.6, 2.0, 10],
        [-6.2, -3.0, -1.2, 0.0, 0.4, 0.0, -0.8, -1.6, -2.0, -1.8, -1.0, 0.0, 0.8, 1.0, 0.6, -0.4, -1.6, -2.4, -2.6, -1.8, -2],
        [2.4, 0.2, -0.6, 0.0, 1.2, 2.2, 2.4, 1.6, 0.4, -0.6, -0.8, 0.0, 1.2, 2.2, 2.4, 1.8, 0.6, -0.6, -1.2, -0.8, -7],
        [-0.6, 1.4, 2.0, 1.4, 0.2, -1.0, -1.6, -1.2, 0.0, 1.2, 1.8, 1.4, 0.2, -1.0, -1.6, -1.2, 0.0, 1.2, 1.6, 1.0, -10],
        [2.6, -0.4, -1.6, -1.6, -0.8, 0.4, 1.4, 1.8, 1.4, 0.4, -0.8, -1.6, -1.6, -0.8, 0.4, 1.4, 1.6, 0.8, -0.4, -1.4, 6],
        [-3.0, -2.2, -0.8, 0.4, 1.2, 1.4, 1.0, 0.2, -0.6, -1.0, -0.8, 0.0, 1.0, 1.8, 2.0, 1.4, 0.2, -1.0, -1.8, -1.8, -4],
        [0.8, 0.6, 1.2, 1.8, 1.8, 1.2, 0.2, -0.8, -1.4, -1.4, -0.6, 0.6, 1.6, 2.0, 1.6, 0.6, -0.6, -1.4, -1.4, -0.4, 9],
        [4.2, 1.4, 0.2, -0.4, -0.8, -1.2, -1.4, -1.2, -0.4, 0.6, 1.4, 1.8, 1.4, 0.4, -0.8, -1.6, -1.8, -1.2, 0.0, 1.2, -1],
        [-2.0, -1.2, -1.8, -2.2, -1.8, -0.6, 0.8, 1.8, 2.0, 1.2, -0.2, -1.4, -1.8, -1.2, 0.0, 1.0, 1.2, 0.6, -0.4, -1.2, 3],
        [1.2, 2.2, 0.8, -0.8, -1.6, -1.4, -0.4, 0.8, 1.6, 1.6, 0.8, -0.4, -1.2, -1.2, -0.4, 0.6, 1.4, 1.6, 1.0, 0.0, -6],
        [-1.0, -3.4, -3.0, -1.2, 1.2, 3.0, 3.6, 2.6, 0.4, -2.0, -3.4, -3.2, -1.6, 0.8, 2.8, 3.4, 2.4, 0.2, -2.0, -3.0, 8],
        [3.6, 2.8, 0.8, -1.6, -3.2, -3.2, -1.8, 0.4, 2.4, 3.4, 2.8, 1.0, -1.2, -2.8, -3.2, -2.0, 0.0, 2.0, 3.2, 3.0, -5],
        [-5.4, -0.8, 1.8, 3.4, 3.4, 2.0, -0.2, -2.4, -3.4, -2.8, -0.8, 1.6, 3.2, 3.4, 2.0, -0.2, -2.2, -3.2, -2.8, -1.2, 4],
        [0.2, 1.6, -0.6, -2.6, -3.6, -3.0, -1.2, 1.2, 3.0, 3.6, 2.6, 0.4, -1.8, -3.2, -3.2, -1.8, 0.4, 2.4, 3.4, 2.8, -9],
        [-0.4, 2.6, 2.4, 3.0, 3.8, 3.8, 3.0, 2.4, 2.6, 3.4, 3.8, 3.4, 2.6, 2.4, 3.0, 3.8, 3.6, 2.8, 2.4, 2.6, 7],
        [0.6, -2.2, -2.8, -3.6, -3.8, -3.2, -2.4, -2.6, -3.4, -3.8, -3.2, -2.4, -2.4, -3.2, -3.8, -3.4, -2.6, -2.4, -3.0, -3.2, -8]
    ];
    var blackLines = [
        [1.0, 2.8, 5.9, 4.6, 2.8, 1.2, 0.2, -0.2, 0.0, 0.6, 1.2, 1.4, 1.0, 0.2, -0.8, -1.6, -1.8, -1.2, 0.0, 1.0, -3],
        [-2.0, 5.4, 3.8, 2.6, 2.0, 1.4, 0.6, -0.2, -0.8, -1.0, -0.6, 0.2, 1.0, 1.6, 1.6, 1.0, 0.0, -1.0, -1.6, -1.4, 4],
        [0.0, -1.2, -1.6, -1.2, -0.4, 0.6, 1.8, 3.0, 3.8, 4.4, 5.3, 5.8, 5.7, 5.2, 4.3, 3.2, 2.2, 1.4, 0.8, 0.4, -5],
        [-4.5, -2.6, -3.8, -4.4, -4.8, -5.2, -5.8, -5.7, -4.6, -3.0, -1.6, -0.6, 0.0, 0.2, 0.0, -0.4, -0.8, -1.0, -0.8, -0.6, 2],
        [3.0, 1.6, 0.8, 0.4, 0.6, 1.2, 1.8, 2.0, 1.6, 0.8, -0.2, -1.0, -1.4, -1.2, -0.6, 0.2, 1.0, 1.6, 1.8, 1.2, 8],
        [-6.0, -4.4, -4.0, -3.6, -2.6, -1.4, -0.4, 0.2, 0.2, -0.2, -0.8, -1.4, -1.8, -1.8, -1.4, -0.8, -0.2, 0.2, 0.2, -0.4, -10],
        [2.0, 3.8, 3.6, 4.4, 3.6, 2.4, 1.2, 0.4, 0.0, 0.2, 0.8, 1.4, 1.8, 1.8, 1.4, 0.8, 0.2, -0.2, -0.2, 0.4, 6],
        [-1.0, -0.6, 0.2, 0.8, 0.8, 0.2, -0.8, -1.8, -2.4, -2.4, -1.8, -0.8, 0.4, 1.4, 2.0, 2.0, 1.4, 0.6, 0.0, 0.2, -7],
        [1.5, -0.2, -1.2, -1.6, -1.4, -0.8, -0.2, 0.2, 0.2, -0.2, -0.8, -1.4, -1.8, -2.0, -2.2, -2.6, -3.2, -3.8, -4.4, -3.0, 3],
        [5.0, 2.4, 1.2, 0.6, 0.4, 0.4, 0.2, -0.2, -0.6, -0.8, -0.6, 0.2, 1.2, 2.2, 2.8, 2.8, 2.2, 1.2, 0.2, -0.6, -8],
        [-3.0, 0.8, 1.6, 1.2, 0.2, -1.0, -1.8, -2.0, -1.4, -0.4, 0.6, 1.2, 1.2, 0.6, -0.4, -1.4, -2.0, -2.0, -1.2, 0.0, 5],
        [0.5, 2.0, 2.2, 1.6, 0.6, -0.4, -1.0, -1.0, -0.4, 0.6, 1.6, 2.4, 2.6, 2.2, 1.4, 0.4, -0.6, -1.4, -1.8, -1.4, -2],
        [-1.4, 1.2, 1.8, 0.8, -0.6, -1.6, -1.6, -0.6, 0.8, 1.8, 1.8, 0.8, -0.6, -1.6, -1.8, -1.0, 0.4, 1.4, 1.6, 0.8, 7],
        [2.6, 0.4, -1.2, -1.6, -1.0, 0.2, 1.4, 1.8, 1.2, 0.0, -1.2, -1.8, -1.4, -0.2, 1.0, 1.6, 1.2, 0.2, -0.8, -1.2, -6],
        [-3.6, -1.8, -0.2, 0.8, 1.0, 0.4, -0.6, -1.4, -1.6, -1.0, 0.0, 1.0, 1.6, 1.4, 0.6, -0.6, -1.6, -2.0, -1.6, -0.6, 4],
        [0.8, 2.2, 1.4, 0.0, -0.8, -0.6, 0.4, 1.4, 2.0, 1.6, 0.4, -1.0, -2.0, -2.2, -1.6, -0.4, 0.8, 1.6, 1.6, 0.8, -9],
        [4.8, 1.6, 0.4, 0.2, 0.6, 1.0, 1.0, 0.4, -0.6, -1.6, -2.2, -2.2, -1.4, -0.2, 1.0, 1.8, 1.8, 1.0, -0.2, -1.0, 2],
        [-0.6, -2.4, -2.6, -1.6, -0.2, 0.8, 1.0, 0.4, -0.6, -1.4, -1.6, -1.0, 0.2, 1.2, 1.6, 1.2, 0.2, -1.0, -1.8, -1.6, 10],
        [-2.4, 0.2, 1.2, 1.0, 0.2, -0.6, -0.8, -0.2, 0.8, 1.6, 1.8, 1.2, 0.0, -1.2, -1.8, -1.6, -0.6, 0.6, 1.4, 1.4, -8],
        [1.8, -1.0, -1.8, -1.2, 0.2, 1.4, 1.8, 1.2, 0.0, -1.2, -1.8, -1.4, -0.2, 1.0, 1.6, 1.2, 0.0, -1.2, -1.6, -0.8, 6],
        [-4.0, -1.4, 0.0, 0.4, 0.0, -0.8, -1.4, -1.4, -0.6, 0.4, 1.2, 1.2, 0.4, -0.8, -1.8, -2.2, -1.8, -0.8, 0.4, 1.2, 1],
        [3.2, 2.6, 1.6, 0.8, 0.6, 1.0, 1.4, 1.4, 0.8, -0.2, -1.2, -1.6, -1.2, -0.2, 0.8, 1.4, 1.2, 0.4, -0.6, -1.2, -4],
        [0.0, 1.0, 0.0, -1.4, -2.2, -2.0, -0.8, 0.6, 1.6, 1.8, 1.0, -0.2, -1.2, -1.4, -0.8, 0.4, 1.4, 1.8, 1.2, 0.0, 8],
        [-1.6, -2.0, -1.0, 0.4, 1.4, 1.6, 0.8, -0.4, -1.4, -1.8, -1.2, 0.0, 1.2, 1.8, 1.6, 0.6, -0.6, -1.4, -1.4, -0.6, -7],
        [-0.8, 3.0, 3.4, 2.0, -0.4, -2.6, -3.4, -2.6, -0.4, 1.8, 3.2, 3.0, 1.4, -0.8, -2.6, -3.2, -2.2, 0.0, 2.2, 3.0, 6],
        [2.8, -2.0, -3.4, -3.0, -1.2, 1.2, 3.0, 3.4, 2.2, 0.0, -2.2, -3.4, -3.0, -1.2, 1.0, 2.8, 3.2, 2.0, -0.2, -2.0, -7],
        [-5.0, -2.6, -0.4, 2.0, 3.4, 3.2, 1.6, -0.8, -2.8, -3.6, -3.0, -1.2, 1.0, 2.8, 3.4, 2.4, 0.4, -1.6, -3.0, -3.2, 3],
        [4.0, 0.2, 2.2, 3.6, 3.2, 1.4, -1.0, -2.8, -3.4, -2.4, -0.2, 2.0, 3.2, 3.0, 1.4, -0.8, -2.6, -3.2, -2.4, -0.4, -10],
        [2.4, 3.2, 3.6, 3.0, 2.4, 2.6, 3.4, 3.8, 3.2, 2.4, 2.4, 3.2, 3.6, 3.0, 2.2, 2.4, 3.2, 3.8, 3.4, 2.2, 4],
        [-2.2, -3.6, -3.4, -2.6, -2.4, -3.2, -3.8, -3.4, -2.6, -2.6, -3.4, -3.8, -3.2, -2.4, -2.6, -3.4, -3.8, -3.2, -2.4, -2.4, -5]
    ];

    var groups = [
        {color: '#0000ff', lines: blueLines},
        {color: '#008000', lines: greenLines},
        {color: '#ff0000', lines: redLines},
        {color: '#00bfbf', lines: cyanLines},
        {color: '#bf00bf', lines: magentaLines},
        {color: '#bfbf00', lines: yellowLines},
        {color: '#404040', lines: blackLines}
    ];

    var font = 'Liberation Sans, Arial, Helvetica, sans-serif';

    function toPairs(xs, ys) {
        return ys.map(function (y, i) { return [xs[i], y]; });
    }

    function fmt(v) {
        var s = String(Math.round(v * 10) / 10);
        return s.replace('-', '\u2212');
    }

    function lineSeries(name, xs, ys, color, width, z) {
        return {
            name: name,
            type: 'line',
            data: toPairs(xs, ys),
            symbol: 'none',
            color: color,
            lineStyle: {color: color, width: width},
            clip: true,
            silent: true,
            z: z
        };
    }

    // first trace gets the legend entry, as in the original figure
    var series = [lineSeries('Optimal pts', edgeX, edgeY, '#0000ff', 2, 2)];
    // plot in MATLAB order: colours cycle b g r c m y k
    var maxLen = Math.max.apply(null, groups.map(function (g) { return g.lines.length; }));
    for (var i = 0; i < maxLen; i++) {
        groups.forEach(function (g) {
            if (i < g.lines.length) {
                series.push(lineSeries('curve' + series.length, xNodes, g.lines[i], g.color, 1, 2));
            }
        });
    }
    series.push(lineSeries('optimal', xFine, optimalY, '#00ff00', 3, 3));

    var chart = echarts.init(document.getElementById('main'));
    chart.setOption({
        animation: false,
        backgroundColor: '#ffffff',
        title: {
            text: 'Regression functions',
            left: 301,
            top: 4,
            padding: 0,
            textAlign: 'center',
            textStyle: {fontFamily: font, fontSize: 13, fontWeight: 'normal', color: '#000'}
        },
        legend: {
            data: [{name: 'Optimal pts', itemStyle: {color: '#0000ff'}}],
            left: 448,
            top: 30,
            padding: [3, 40, 3, 7],
            backgroundColor: '#ffffff',
            borderColor: '#000000',
            borderWidth: 1,
            borderRadius: 0,
            icon: 'rect',
            itemWidth: 37,
            itemHeight: 2,
            selectedMode: false,
            textStyle: {fontFamily: font, fontSize: 13, color: '#000'}
        },
        grid: {left: 29, top: 22, width: 543.5, height: 427, outerBoundsMode: 'none', containLabel: false},
        xAxis: [{
            type: 'value',
            min: xTicks[0],
            max: xTicks[xTicks.length - 1],
            interval: 0.2,
            position: 'bottom',
            axisLine: {onZero: false, lineStyle: {color: '#000', width: 1}},
            axisTick: {inside: true, length: 5, lineStyle: {color: '#000'}},
            axisLabel: {formatter: fmt, margin: 4, fontFamily: font, fontSize: 12, color: '#000'},
            splitLine: {show: false}
        }, {
            type: 'value',
            min: xTicks[0],
            max: xTicks[xTicks.length - 1],
            interval: 0.2,
            position: 'top',
            axisLine: {onZero: false, lineStyle: {color: '#000', width: 1}},
            axisTick: {inside: true, length: 5, lineStyle: {color: '#000'}},
            axisLabel: {show: false},
            splitLine: {show: false}
        }],
        yAxis: {
            type: 'value',
            min: yTicks[0],
            max: yTicks[yTicks.length - 1],
            interval: 2,
            axisLine: {show: true, onZero: false, lineStyle: {color: '#000', width: 1}},
            axisTick: {show: true, inside: true, length: 5, lineStyle: {color: '#000'}},
            axisLabel: {formatter: fmt, margin: 4, fontFamily: font, fontSize: 12, color: '#000'},
            splitLine: {show: false}
        },
        series: series
    });
</script>
</body>
</html>
